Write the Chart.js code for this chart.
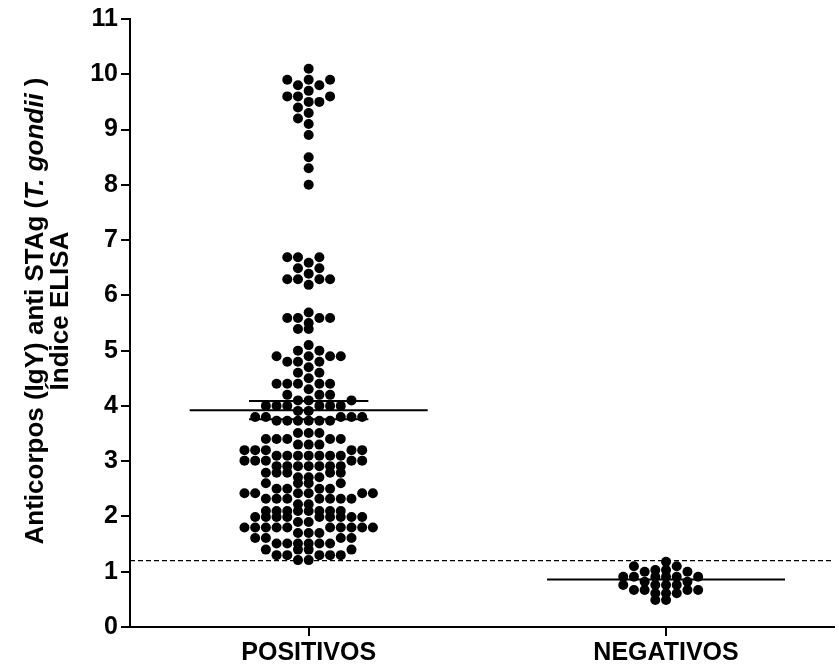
<!DOCTYPE html>
<html>
<head>
<meta charset="utf-8">
<script src="https://cdn.jsdelivr.net/npm/chart.js@4.4.0/dist/chart.umd.min.js"></script>
<style>
  html, body { margin: 0; padding: 0; background: #fff; }
</style>
</head>
<body>
<canvas id="dotChart" width="839" height="668"></canvas>
<script>
// categorias do eixo X
const categories = ['POSITIVOS', 'NEGATIVOS'];

// valores (índice ELISA de cada ave)
const positivos = [
  10.1, 9.9, 9.9, 9.9, 9.8, 9.8, 9.7, 9.6, 9.6, 9.6, 9.5, 9.5,
  9.4, 9.3, 9.2, 9.1, 8.9, 8.5, 8.3, 8.0,
  6.69, 6.69, 6.69, 6.59, 6.49, 6.49, 6.39, 6.29, 6.29, 6.29, 6.29, 6.19,
  5.69, 5.59, 5.59, 5.59, 5.59, 5.5, 5.39, 5.39, 5.1, 5.0, 5.0,
  4.9, 4.9, 4.9, 4.9, 4.8, 4.8, 4.8, 4.7, 4.6, 4.6, 4.5,
  4.4, 4.4, 4.4, 4.4, 4.4, 4.3, 4.2, 4.2, 4.2, 4.1, 4.1, 4.1,
  4.0, 4.0, 4.0, 4.0, 4.0, 4.0, 3.91, 3.91,
  3.8, 3.8, 3.8, 3.8, 3.8, 3.73, 3.73, 3.73, 3.73, 3.73, 3.73,
  3.51, 3.51, 3.51, 3.4, 3.4, 3.4, 3.4, 3.4, 3.3, 3.3, 3.3,
  3.2, 3.2, 3.2, 3.2, 3.2, 3.1, 3.1, 3.1, 3.1, 3.1, 3.1, 3.1,
  3.01, 3.01, 3.01, 3.01, 3.01, 2.91, 2.91, 2.91, 2.91, 2.91, 2.91, 2.91,
  2.79, 2.79, 2.79, 2.79, 2.79, 2.71, 2.71, 2.71, 2.6, 2.6, 2.6, 2.6,
  2.5, 2.5, 2.5, 2.5, 2.42, 2.42, 2.42, 2.42, 2.42, 2.42,
  2.32, 2.32, 2.32, 2.32, 2.32, 2.32, 2.32, 2.22, 2.22,
  2.1, 2.1, 2.1, 2.1, 2.1, 2.1, 2.1, 2.1,
  1.99, 1.99, 1.99, 1.99, 1.99, 1.99, 1.99, 1.99, 1.99, 1.9, 1.9,
  1.8, 1.8, 1.8, 1.8, 1.8, 1.8, 1.8, 1.8, 1.8, 1.8,
  1.7, 1.7, 1.7, 1.61, 1.61, 1.61, 1.61,
  1.51, 1.51, 1.51, 1.51, 1.51, 1.51, 1.4, 1.4, 1.4, 1.4,
  1.3, 1.3, 1.3, 1.3, 1.3, 1.21, 1.21
];
const negativos = [
  1.18, 1.1, 1.1, 1.03, 1.03, 1.0, 1.0,
  0.91, 0.91, 0.91, 0.91, 0.91, 0.91, 0.82, 0.82,
  0.76, 0.76, 0.76, 0.76, 0.67, 0.67, 0.67, 0.67,
  0.61, 0.61, 0.61, 0.49, 0.49
];

// média e erro padrão
const means = [3.92, 0.86];
const semLow = [3.76, null];
const semHigh = [4.09, null];
const cutoff = 1.2;

const yMin = 0, yMax = 11, yStep = 1;
const yTitleLine1 = [
  { text: 'Anticorpos (IgY) anti STAg (', italic: false },
  { text: 'T. gondii', italic: true },
  { text: ' )', italic: false }
];
const yTitleLine2 = [{ text: 'Índice ELISA', italic: false }];

// aparência
const FONT = '"Liberation Sans", Arial, sans-serif';
const DOT_R = 5;
const SLOT_PX = 10.7;   // distância horizontal entre pontos vizinhos
const MIN_DY = 6;       // distância vertical mínima no mesmo "slot"
const MEAN_HALF = 0.333;
const SEM_HALF = 0.167;
const target = { left: 130, right: 839, top: 19, bottom: 627 };

function hLine(y, x0, x1, width, dash) {
  return {
    type: 'line', data: [{ x: x0, y: y }, { x: x1, y: y }],
    borderColor: '#000', borderWidth: width, borderDash: dash || [],
    pointRadius: 0, pointHoverRadius: 0, fill: false, order: 1
  };
}

const lineSets = [];
means.forEach((m, i) => lineSets.push(hLine(m, i - MEAN_HALF, i + MEAN_HALF, 2)));
semLow.forEach((s, i) => { if (s != null) lineSets.push(hLine(s, i - SEM_HALF, i + SEM_HALF, 2)); });
semHigh.forEach((s, i) => { if (s != null) lineSets.push(hLine(s, i - SEM_HALF, i + SEM_HALF, 2)); });

const groups = [positivos, negativos];
const dotSets = groups.map((vals, i) => ({
  type: 'scatter', label: categories[i],
  data: vals.map(v => ({ x: i, y: v })),
  backgroundColor: '#000', borderWidth: 0,
  pointRadius: DOT_R, pointHoverRadius: DOT_R, order: 2
}));

const cutoffSet = hLine(cutoff, -0.5, 1.47, 1.3, [5, 3]);

// título do eixo Y com parte em itálico
function drawRotated(c, parts, x, cy, size) {
  const fontOf = p => (p.italic ? 'italic ' : '') + 'bold ' + size + 'px ' + FONT;
  let total = 0;
  parts.forEach(p => { c.font = fontOf(p); total += c.measureText(p.text).width; });
  c.save();
  c.translate(x, cy);
  c.rotate(-Math.PI / 2);
  let pos = -total / 2;
  parts.forEach(p => {
    c.font = fontOf(p);
    c.fillText(p.text, pos, 0);
    pos += c.measureText(p.text).width;
  });
  c.restore();
}

const yTitlePlugin = {
  id: 'yTitle',
  afterDraw(chart) {
    const c = chart.ctx;
    const a = chart.chartArea;
    const cy = (a.top + a.bottom) / 2 - 12;
    c.save();
    c.fillStyle = '#000';
    c.textAlign = 'left';
    c.textBaseline = 'middle';
    drawRotated(c, yTitleLine1, 36, cy, 26);
    drawRotated(c, yTitleLine2, 61, cy, 26);
    c.restore();
  }
};

const ctx = document.getElementById('dotChart').getContext('2d');
const chart = new Chart(ctx, {
  data: { datasets: lineSets.concat([cutoffSet]).concat(dotSets) },
  options: {
    responsive: false,
    animation: false,
    devicePixelRatio: 1,
    layout: { padding: { left: 0, right: 0, top: target.top, bottom: 0 } },
    plugins: { legend: { display: false }, tooltip: { enabled: false } },
    scales: {
      x: {
        type: 'linear', min: -0.5, max: 1.47,
        afterBuildTicks: s => { s.ticks = categories.map((c, i) => ({ value: i })); },
        afterFit: s => { s.height = 668 - target.bottom; },
        ticks: {
          callback: v => categories[v],
          color: '#000', padding: 2,
          font: { family: FONT, size: 25, weight: 'bold' },
          maxRotation: 0, autoSkip: false
        },
        grid: { drawOnChartArea: false, tickLength: 9, color: '#000', lineWidth: 2 },
        border: { color: '#000', width: 2 }
      },
      y: {
        min: yMin, max: yMax,
        afterFit: s => { s.width = target.left; },
        ticks: {
          stepSize: yStep, color: '#000', padding: 3,
          font: { family: FONT, size: 25, weight: 'bold' }
        },
        grid: { drawOnChartArea: false, tickLength: 9, color: '#000', lineWidth: 2 },
        border: { color: '#000', width: 2 }
      }
    }
  },
  plugins: [yTitlePlugin]
});

// espalha os pontos de cada grupo em colunas (estilo "beeswarm")
function spread(vals, center) {
  const xs = chart.scales.x, ys = chart.scales.y;
  const placed = [];
  const slots = new Array(vals.length);
  const idx = vals.map((v, i) => i).sort((a, b) => vals[a] - vals[b]);
  idx.forEach(i => {
    const py = ys.getPixelForValue(vals[i]);
    for (let k = 0; k < 200; k++) {
      const slot = k === 0 ? 0 : (k % 2 ? -Math.ceil(k / 2) : k / 2);
      const clash = placed.some(p => p.slot === slot && Math.abs(p.py - py) < MIN_DY);
      if (!clash) { placed.push({ slot: slot, py: py }); slots[i] = slot; break; }
    }
  });
  const px0 = xs.getPixelForValue(center);
  return vals.map((v, i) => ({ x: xs.getValueForPixel(px0 + slots[i] * SLOT_PX), y: v }));
}

groups.forEach((vals, i) => { dotSets[i].data = spread(vals, i); });
chart.update();
</script>
</body>
</html>
